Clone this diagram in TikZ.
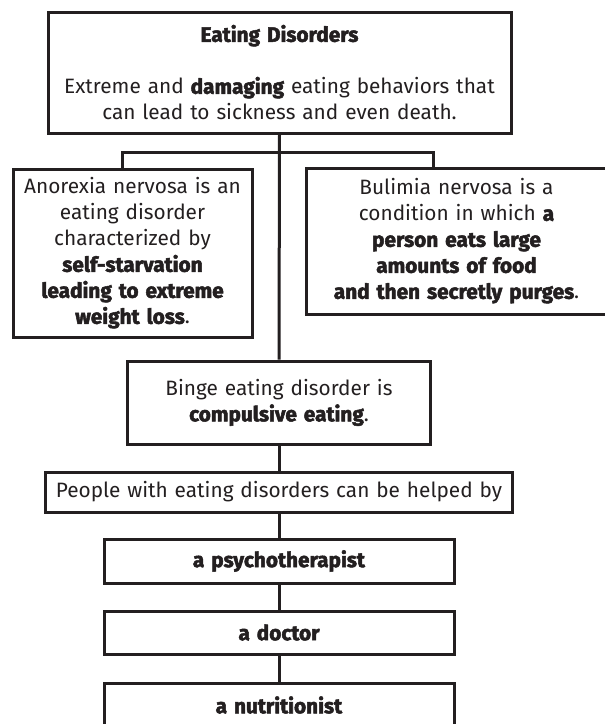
\documentclass[tikz,border=0pt]{standalone}
\usepackage{fontspec}
\setmainfont{Fira Sans}[BoldFeatures={FakeBold=2.4}]
\definecolor{ink}{HTML}{231F20}
\begin{document}
\begin{tikzpicture}[x=1pt,y=-1pt,
  box/.style={draw=ink, line width=3pt, rectangle, inner sep=0pt, align=center,
    text=ink, font=\fontsize{20.8}{26}\selectfont},
  link/.style={draw=ink, line width=3pt}]
\useasboundingbox (0,0) rectangle (605,724);
\node[box, minimum width=463pt, minimum height=121pt, text width=460pt] (top) at (279.5,72.5)
  {\textbf{Eating Disorders}\\[26pt]Extreme and \textbf{damaging} eating behaviors that\\can lead to sickness and even death.};
\node[box, minimum width=239pt, minimum height=168pt, text width=236pt] (ano) at (132.5,253)
  {Anorexia nervosa is an\\eating disorder\\characterized by\\\textbf{self-starvation}\\\textbf{leading to extreme}\\\textbf{weight loss}.};
\node[box, minimum width=301pt, minimum height=146pt, text width=296pt] (bul) at (456.5,241)
  {Bulimia nervosa is a\\condition in which \textbf{a}\\\textbf{person eats large}\\\textbf{amounts of food}\\\textbf{and then secretly purges}.};
\node[box, minimum width=303pt, minimum height=83pt, text width=296pt] (binge) at (279,402.5)
  {Binge eating disorder is\\\textbf{compulsive eating}.};
\node[box, minimum width=467pt, minimum height=40pt, text width=464pt] (people) at (279,492)
  {People with eating disorders can be helped by};
\node[box, minimum width=350pt, minimum height=44pt, text width=340pt] (psych) at (279,561)
  {\textbf{a psychotherapist}};
\node[box, minimum width=350pt, minimum height=43pt, text width=340pt] (doc) at (279,632.5)
  {\textbf{a doctor}};
\node[box, minimum width=350pt, minimum height=44pt, text width=340pt] (nut) at (279,705)
  {\textbf{a nutritionist}};
\coordinate (bl) at (122,152);
\coordinate (br) at (433,152);
\draw[link] (top.south) -- (binge.north);
\draw[link] (ano.north -| bl) -- (bl) -- (br) -- (bul.north -| br);
\draw[link] (binge.south) -- (people.north);
\draw[link] (people.south) -- (psych.north);
\draw[link] (psych.south) -- (doc.north);
\draw[link] (doc.south) -- (nut.north);
\end{tikzpicture}
\end{document}
